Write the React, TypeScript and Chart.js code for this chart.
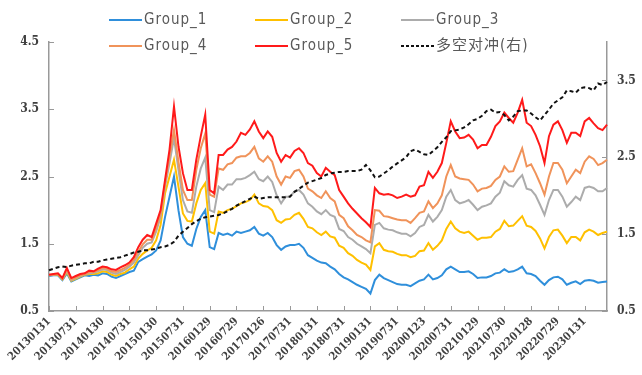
import React, { useEffect, useRef } from "react";
import { Chart, registerables } from "chart.js";

Chart.register(...registerables);

const tickLabels = [
  "20130131", "20130731", "20140130", "20140731", "20150130", "20150731", "20160129",
  "20160729", "20170126", "20170731", "20180131", "20180731", "20190131", "20190731",
  "20200123", "20200731", "20210129", "20210730", "20220128", "20220729", "20230131",
];

// monthly observations, 2013-01 .. 2023-06
const categories: string[] = [];
for (let i = 0; i < 126; i++) {
  const y = 2013 + Math.floor(i / 12);
  const m = (i % 12) + 1;
  categories.push(`${y}${m < 10 ? "0" + m : m}`);
}

const leftTicks = [0.5, 1.5, 2.5, 3.5, 4.5];
const rightTicks = [0.5, 1.5, 2.5, 3.5];

const group1 = [
  1.02, 1.03, 1.03, 0.96, 1.06, 0.94, 0.97, 1.0, 1.03, 1.02, 1.04, 1.03,
  1.06, 1.05, 1.01, 0.99, 1.02, 1.05, 1.08, 1.1, 1.23, 1.27, 1.31, 1.34,
  1.4, 1.55, 1.9, 2.2, 2.5, 2.0, 1.6, 1.5, 1.47, 1.72, 1.9, 2.0,
  1.45, 1.42, 1.66, 1.63, 1.65, 1.62, 1.68, 1.66, 1.68, 1.7, 1.75, 1.65,
  1.62, 1.66, 1.6, 1.48, 1.41, 1.46, 1.48, 1.48, 1.5, 1.44, 1.33, 1.29,
  1.25, 1.22, 1.21, 1.16, 1.12, 1.05, 1.0, 0.97, 0.93, 0.89, 0.86, 0.83,
  0.76, 0.96, 1.04, 0.99, 0.96, 0.93, 0.9, 0.89, 0.89, 0.87, 0.91, 0.95,
  0.97, 1.04, 0.97, 0.99, 1.03, 1.12, 1.16, 1.12, 1.08, 1.08, 1.09, 1.05,
  0.99, 1.0, 1.0, 1.02, 1.06, 1.07, 1.12, 1.08, 1.09, 1.12, 1.16, 1.06,
  1.05, 1.02, 0.95, 0.89, 0.96, 1.0, 1.01, 0.97, 0.89, 0.92, 0.94, 0.9,
  0.95, 0.96, 0.95, 0.92, 0.93, 0.94,
];

const group2 = [
  1.03, 1.04, 1.04, 0.97, 1.08, 0.95, 0.98, 1.01, 1.04, 1.05, 1.05, 1.06,
  1.09, 1.08, 1.04, 1.02, 1.05, 1.07, 1.12, 1.16, 1.28, 1.35, 1.4, 1.44,
  1.55, 1.78, 2.25, 2.5, 2.75, 2.35, 1.95, 1.84, 1.83, 2.1, 2.3, 2.4,
  1.68, 1.65, 1.98, 1.96, 2.0, 2.02, 2.06, 2.1, 2.12, 2.15, 2.23, 2.1,
  2.06, 2.05, 2.0, 1.85, 1.81, 1.86, 1.87, 1.93, 1.96, 1.87, 1.75, 1.73,
  1.67, 1.63, 1.68, 1.61, 1.59, 1.47, 1.44, 1.36, 1.32, 1.26, 1.22, 1.19,
  1.11, 1.46, 1.51, 1.41, 1.39, 1.38, 1.35, 1.33, 1.33, 1.3, 1.32, 1.39,
  1.4, 1.51, 1.41, 1.47, 1.55, 1.72, 1.83, 1.73, 1.68, 1.66, 1.68, 1.62,
  1.56, 1.59, 1.59, 1.6, 1.68, 1.72, 1.84, 1.76, 1.77, 1.84, 1.91, 1.77,
  1.75, 1.69, 1.58, 1.43, 1.6, 1.7, 1.71, 1.62, 1.51, 1.6, 1.6, 1.55,
  1.67, 1.71, 1.68, 1.63, 1.66, 1.68,
];

const group3 = [
  1.03, 1.04, 1.05, 0.98, 1.1, 0.96, 0.99, 1.02, 1.05, 1.06, 1.07, 1.09,
  1.12, 1.11, 1.07, 1.05, 1.08, 1.11, 1.16, 1.22, 1.33, 1.44, 1.5, 1.52,
  1.68, 1.9, 2.35, 2.7, 3.07, 2.6, 2.15, 1.98, 1.96, 2.35, 2.62, 2.78,
  2.0, 1.97, 2.35, 2.3, 2.38, 2.38, 2.46, 2.46, 2.48, 2.52, 2.57, 2.46,
  2.43, 2.5, 2.42, 2.22, 2.1, 2.2, 2.2, 2.28, 2.3, 2.23, 2.1, 2.05,
  1.98, 1.94, 2.0, 1.93, 1.9, 1.72, 1.69, 1.6, 1.56, 1.5, 1.46, 1.42,
  1.36, 1.78, 1.81, 1.73, 1.71, 1.7, 1.67, 1.65, 1.65, 1.61, 1.66, 1.75,
  1.78, 1.93, 1.83, 1.9, 2.0, 2.2, 2.3, 2.15, 2.1, 2.12, 2.15, 2.08,
  2.0, 2.05, 2.07, 2.1, 2.2, 2.26, 2.43, 2.37, 2.35, 2.45, 2.52, 2.32,
  2.3, 2.22, 2.08, 1.93, 2.15, 2.3, 2.3, 2.2, 2.05, 2.12, 2.2, 2.15,
  2.33, 2.35, 2.33, 2.28, 2.28, 2.33,
];

const group4 = [
  1.04, 1.04, 1.05, 0.98, 1.12, 0.97, 1.0, 1.03, 1.05, 1.08, 1.08, 1.11,
  1.14, 1.13, 1.09, 1.08, 1.11, 1.14, 1.19, 1.26, 1.38, 1.49, 1.56, 1.56,
  1.74, 1.95, 2.4, 2.8, 3.19, 2.72, 2.3, 2.15, 2.15, 2.6, 2.92, 3.14,
  2.23, 2.2, 2.62, 2.6, 2.68, 2.7, 2.78, 2.8, 2.8, 2.85, 2.94, 2.77,
  2.72, 2.8, 2.72, 2.5, 2.38, 2.5, 2.48, 2.58, 2.6, 2.5, 2.32, 2.28,
  2.22, 2.18, 2.28, 2.18, 2.13, 1.93, 1.88, 1.76, 1.7, 1.63, 1.6, 1.55,
  1.52, 2.0, 1.99, 1.91, 1.9, 1.88, 1.86, 1.85, 1.85, 1.81, 1.88, 1.96,
  1.98, 2.13, 2.03, 2.1, 2.22, 2.5, 2.67, 2.5, 2.47, 2.46, 2.45, 2.38,
  2.28, 2.32, 2.33, 2.36, 2.45, 2.5, 2.65, 2.57, 2.58, 2.75, 2.92, 2.65,
  2.68, 2.55, 2.4, 2.23, 2.5, 2.7, 2.7, 2.6, 2.4, 2.5, 2.6, 2.55,
  2.72, 2.8, 2.76, 2.67, 2.7, 2.75,
];

const group5 = [
  1.04, 1.05, 1.06, 0.99, 1.14, 0.99, 1.02, 1.05, 1.06, 1.1, 1.09, 1.13,
  1.16, 1.15, 1.12, 1.11, 1.15, 1.18, 1.22, 1.3, 1.45, 1.56, 1.63, 1.6,
  1.8, 2.0, 2.45, 2.9, 3.54, 2.95, 2.55, 2.3, 2.3, 2.75, 3.1, 3.42,
  2.3, 2.25, 2.82, 2.82, 2.9, 2.94, 3.02, 3.15, 3.12, 3.2, 3.32, 3.17,
  3.07, 3.17, 3.09, 2.85, 2.72, 2.82, 2.78, 2.88, 2.92, 2.85, 2.7, 2.66,
  2.55, 2.5, 2.63, 2.57, 2.52, 2.3, 2.2, 2.1, 2.02, 1.95, 1.88, 1.82,
  1.75, 2.33, 2.25, 2.23, 2.24, 2.22, 2.18, 2.2, 2.23, 2.2, 2.22, 2.35,
  2.37, 2.57, 2.48, 2.57, 2.7, 3.0, 3.32, 3.17, 3.07, 3.08, 3.12, 3.05,
  2.92, 2.97, 2.97, 3.09, 3.25, 3.32, 3.45, 3.37, 3.3, 3.45, 3.64, 3.3,
  3.25, 3.12, 2.95, 2.7, 3.1, 3.27, 3.32, 3.19, 3.0, 3.15, 3.15, 3.1,
  3.32, 3.37, 3.29, 3.22, 3.19, 3.27,
];

const hedge = [
  1.03, 1.05, 1.07, 1.08, 1.07, 1.09, 1.1, 1.11, 1.12, 1.12, 1.14, 1.14,
  1.16, 1.17, 1.18, 1.19, 1.2, 1.22, 1.24, 1.26, 1.27, 1.29, 1.29, 1.3,
  1.31, 1.33, 1.34, 1.36, 1.4, 1.48, 1.53, 1.58, 1.63, 1.67, 1.7, 1.72,
  1.73, 1.74, 1.75, 1.77, 1.8, 1.83, 1.87, 1.9, 1.93, 1.96, 1.99, 1.96,
  1.97, 1.98, 1.98, 1.98, 1.98, 1.98, 1.99, 2.05, 2.09, 2.13, 2.17, 2.19,
  2.21, 2.23, 2.27, 2.29, 2.3, 2.31, 2.31, 2.32, 2.32, 2.32, 2.34, 2.4,
  2.33, 2.24, 2.25, 2.29, 2.33, 2.38, 2.42, 2.46, 2.5, 2.58, 2.6, 2.57,
  2.54, 2.53, 2.58, 2.63, 2.7, 2.76, 2.84, 2.85, 2.86, 2.89, 2.93, 2.98,
  3.0, 3.04, 3.1, 3.12, 3.08, 3.09, 3.05, 2.98, 3.03, 3.1, 3.11, 3.11,
  3.07, 3.02, 2.98, 3.05, 3.12, 3.2, 3.24, 3.28, 3.37, 3.36, 3.34, 3.4,
  3.41, 3.4, 3.37, 3.46, 3.44, 3.48,
];

const seriesNames = ["Group_1", "Group_2", "Group_3", "Group_4", "Group_5", "多空对冲(右)"];
const seriesColors = ["#2f8fdb", "#ffc000", "#acacac", "#f0935a", "#ff1a1a", "#111111"];

const FONT = '"DejaVu Serif Condensed", "DejaVu Serif", serif';
const AXIS_COLOR = "#999999";

const legendPlugin = {
  id: "gridLegend",
  afterDraw(chart: any) {
    const ctx = chart.ctx;
    const cols = [109, 255, 401];
    const rows = [20, 46];
    chart.data.datasets.forEach((ds: any, k: number) => {
      const x = cols[k % 3];
      const y = rows[Math.floor(k / 3)];
      ctx.save();
      ctx.strokeStyle = ds.borderColor;
      ctx.lineWidth = 2;
      ctx.setLineDash(ds.borderDash ? [3, 2] : []);
      ctx.beginPath();
      ctx.moveTo(x, y);
      ctx.lineTo(x + 33, y);
      ctx.stroke();
      ctx.setLineDash([]);
      ctx.fillStyle = "#595959";
      ctx.font = `15px "DejaVu Sans Condensed", "Noto Sans CJK SC", sans-serif`;
      ctx.textBaseline = "middle";
      try {
        (ctx as any).letterSpacing = "1px";
      } catch (e) {}
      ctx.fillText(ds.label, x + 35, y);
      ctx.restore();
    });
  },
};

const innerTicksPlugin = {
  id: "innerTicks",
  afterDraw(chart: any) {
    const ctx = chart.ctx;
    const a = chart.chartArea;
    const xs = chart.scales.x;
    const yl = chart.scales.y;
    const yr = chart.scales.y1;
    ctx.save();
    ctx.strokeStyle = AXIS_COLOR;
    ctx.lineWidth = 1;
    ctx.beginPath();
    for (let i = 0; i < categories.length; i += 6) {
      const px = Math.round(xs.getPixelForValue(i)) + 0.5;
      ctx.moveTo(px, a.bottom);
      ctx.lineTo(px, a.bottom - 5);
    }
    leftTicks.forEach((v) => {
      const py = Math.round(yl.getPixelForValue(v)) + 0.5;
      ctx.moveTo(a.left, py);
      ctx.lineTo(a.left + 5, py);
    });
    rightTicks.forEach((v) => {
      const py = Math.round(yr.getPixelForValue(v)) + 0.5;
      ctx.moveTo(a.right, py);
      ctx.lineTo(a.right - 5, py);
    });
    ctx.stroke();
    ctx.restore();
  },
};

export default function App() {
  const ref = useRef<HTMLCanvasElement | null>(null);

  useEffect(() => {
    if (!ref.current) return;
    const values = [group1, group2, group3, group4, group5, hedge];
    const datasets = values.map((vals, k) => ({
      label: seriesNames[k],
      data: vals,
      borderColor: seriesColors[k],
      backgroundColor: seriesColors[k],
      borderWidth: 2,
      borderDash: k === 5 ? [4, 3] : undefined,
      pointRadius: 0,
      tension: 0,
      fill: false,
      yAxisID: k === 5 ? "y1" : "y",
      order: k === 5 ? 0 : 5 - k,
    }));

    const chart = new Chart(ref.current, {
      type: "line",
      data: { labels: categories, datasets },
      plugins: [legendPlugin, innerTicksPlugin],
      options: {
        animation: false,
        responsive: false,
        layout: { padding: { top: 42, left: 0, right: 0, bottom: 0 } },
        plugins: { legend: { display: false }, tooltip: { enabled: false } },
        scales: {
          x: {
            type: "category",
            offset: false,
            grid: { display: false, drawTicks: false },
            border: { display: true, color: AXIS_COLOR, width: 1.5 },
            ticks: {
              autoSkip: false,
              minRotation: 45,
              maxRotation: 45,
              padding: 4,
              color: "#404040",
              font: { family: FONT, size: 11, weight: "bold" },
              callback: (_v: any, i: number) => (i % 6 === 0 ? tickLabels[i / 6] : null),
            },
            afterFit: (s: any) => {
              s.height = 64;
            },
          },
          y: {
            position: "left",
            min: 0.5,
            max: 4.5,
            grid: { display: false, drawTicks: false },
            border: { display: true, color: AXIS_COLOR, width: 1.5 },
            afterBuildTicks: (s: any) => {
              s.ticks = leftTicks.map((v) => ({ value: v }));
            },
            ticks: {
              padding: 10,
              color: "#404040",
              font: { family: FONT, size: 12, weight: "bold" },
              callback: (v: any) => Number(v).toFixed(1),
            },
            afterFit: (s: any) => {
              s.width = 49;
            },
          },
          y1: {
            position: "right",
            min: 0.5,
            max: 4.0,
            grid: { display: false, drawTicks: false },
            border: { display: true, color: AXIS_COLOR, width: 1.5 },
            afterBuildTicks: (s: any) => {
              s.ticks = rightTicks.map((v) => ({ value: v }));
            },
            ticks: {
              padding: 10,
              color: "#404040",
              font: { family: FONT, size: 12, weight: "bold" },
              callback: (v: any) => Number(v).toFixed(1),
            },
            afterFit: (s: any) => {
              s.width = 35;
            },
          },
        },
      } as any,
    });
    return () => chart.destroy();
  }, []);

  return (
    <div style={{ position: "fixed", left: 0, top: 0, width: 642, height: 375, background: "#fff" }}>
      <canvas ref={ref} width={642} height={375} style={{ display: "block" }} />
    </div>
  );
}
